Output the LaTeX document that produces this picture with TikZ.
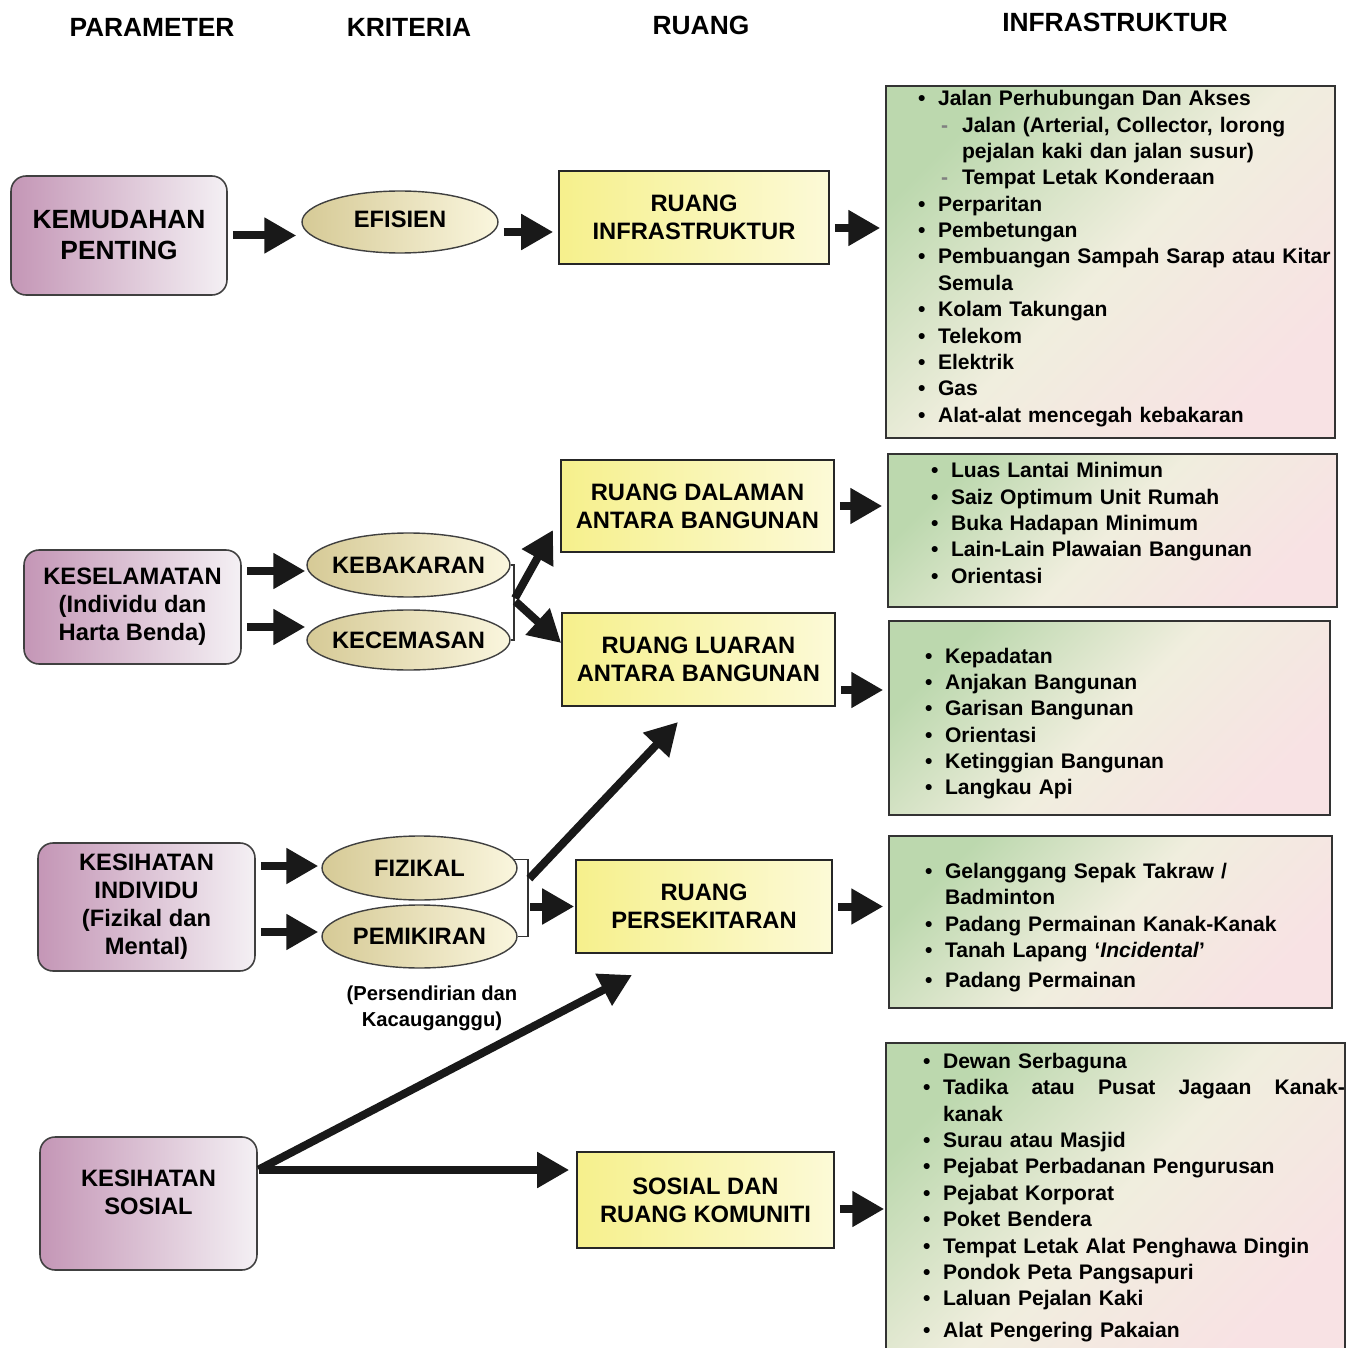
\documentclass[tikz,border=0pt]{standalone}
\usepackage{fontspec}
\setmainfont{Liberation Sans}
\usepackage{enumitem}
\usetikzlibrary{shapes.geometric,arrows.meta,positioning,calc}

\definecolor{paramL}{RGB}{196,150,182}
\definecolor{paramR}{RGB}{244,240,244}
\definecolor{critL}{RGB}{214,202,150}
\definecolor{critR}{RGB}{250,246,222}
\definecolor{ruangL}{RGB}{246,240,140}
\definecolor{ruangR}{RGB}{252,250,215}
\definecolor{infraT}{RGB}{188,216,174}
\definecolor{infraM}{RGB}{240,238,222}
\definecolor{infraB}{RGB}{248,226,228}

\setlist[itemize]{label=\textbullet,labelsep=0.25cm,itemsep=0pt,topsep=0pt,parsep=0pt,partopsep=0pt,leftmargin=1.04cm}
\setlist[itemize,2]{label={\textcolor{black!50}{-}},labelsep=0.28cm,leftmargin=0.48cm}

\begin{document}
\begin{tikzpicture}[x=0.02cm, y=-0.02cm,
    head/.style={font=\fontsize{15}{18}\selectfont\bfseries},
    param/.style={draw=black!75, line width=0.9pt, rounded corners=0.3cm, left color=paramL, right color=paramR, align=center, inner sep=0pt, font=\fontsize{13.5}{16}\selectfont\bfseries},
    crit/.style={ellipse, draw=black!75, line width=0.8pt, left color=critL, right color=critR, inner xsep=-0.1cm, inner ysep=0pt, font=\fontsize{13.5}{16}\selectfont\bfseries},
    ruang/.style={draw=black!85, line width=0.9pt, left color=ruangL, right color=ruangR, align=center, inner sep=0pt, font=\fontsize{13.5}{16}\selectfont\bfseries},
    infra/.style={draw=black!80, line width=0.9pt, top color=infraT, bottom color=infraB, middle color=infraM, shading angle=45, align=left, inner sep=0pt, font=\fontsize{12}{15}\selectfont\bfseries},
    note/.style={align=center, font=\fontsize{11.5}{14.7}\selectfont\bfseries},
    arr/.style={line width=0.16cm, black!90, -{Triangle[length=0.64cm,width=0.68cm]}, shorten <=0.1cm, shorten >=0.1cm},
    brk/.style={line width=0.8pt, black!80}
]
\useasboundingbox (0,0) rectangle (1357,1348);

% Headings
\node[head] (hpar) at (152,27) {PARAMETER};
\node[head] (hkri) at (409,27) {KRITERIA};
\node[head] (hrua) at (701,25) {RUANG};
\node[head] (hinf) at (1115,22) {INFRASTRUKTUR};

% Parameter
\node[param, minimum width=4.32cm, minimum height=2.38cm, font=\fontsize{15}{17.6}\selectfont\bfseries] (p1) at (119,235.5) {KEMUDAHAN\\PENTING};
\node[param, minimum width=4.34cm, minimum height=2.28cm] (p2) at (132.5,607) {KESELAMATAN\\(Individu dan\\Harta Benda)};
\node[param, minimum width=4.34cm, minimum height=2.56cm] (p3) at (146.5,907) {KESIHATAN\\INDIVIDU\\(Fizikal dan\\Mental)};
\node[param, minimum width=4.34cm, minimum height=2.66cm] (p4) at (148.5,1203.5) {KESIHATAN\\SOSIAL\\[-0.12cm]};

% Kriteria
\node[crit, minimum width=3.92cm, minimum height=1.24cm] (efi) at (400,222) {\raisebox{0.12cm}{EFISIEN}};
\node[crit, minimum width=4.06cm, minimum height=1.28cm] (keb) at (408.5,565) {KEBAKARAN};
\node[crit, minimum width=4.06cm, minimum height=1.2cm] (kec) at (408.5,640) {KECEMASAN};
\node[crit, minimum width=3.9cm, minimum height=1.28cm] (fiz) at (419.5,868) {FIZIKAL};
\node[crit, minimum width=3.9cm, minimum height=1.26cm] (pem) at (419.5,936.5) {PEMIKIRAN};
\node[note] (pnote) at (432,1008) {(Persendirian dan\\Kacauganggu)};

% Ruang
\node[ruang, minimum width=5.4cm, minimum height=1.86cm] (r1) at (694,217.5) {RUANG\\INFRASTRUKTUR};
\node[ruang, minimum width=5.46cm, minimum height=1.84cm] (r2) at (697.5,506) {RUANG DALAMAN\\ANTARA BANGUNAN};
\node[ruang, minimum width=5.46cm, minimum height=1.86cm] (r3) at (698.5,659.5) {RUANG LUARAN\\ANTARA BANGUNAN};
\node[ruang, minimum width=5.12cm, minimum height=1.86cm] (r4) at (704,906.5) {RUANG\\PERSEKITARAN};
\node[ruang, minimum width=5.14cm, minimum height=1.92cm] (r5) at (705.5,1200) {SOSIAL DAN\\RUANG KOMUNITI};

% Infrastruktur
\node[infra, text width=8.98cm, minimum height=7.04cm] (i1) at (1110.5,262) {\vspace*{-0.36cm}%
\begin{itemize}
\item Jalan Perhubungan Dan Akses
  \begin{itemize}
  \item Jalan (Arterial, Collector, lorong\newline pejalan kaki dan jalan susur)
  \item Tempat Letak Konderaan
  \end{itemize}
\item Perparitan
\item Pembetungan
\item Pembuangan Sampah Sarap atau Kitar\newline Semula
\item Kolam Takungan
\item Telekom
\item Elektrik
\item Gas
\item Alat-alat mencegah kebakaran
\end{itemize}};
\node[infra, text width=8.98cm, minimum height=3.06cm] (i2) at (1112.5,530.5) {\vspace*{-0.52cm}%
\begin{itemize}[leftmargin=1.26cm]
\item Luas Lantai Minimun
\item Saiz Optimum Unit Rumah
\item Buka Hadapan Minimum
\item Lain-Lain Plawaian Bangunan
\item Orientasi
\end{itemize}};
\node[infra, text width=8.82cm, minimum height=3.88cm] (i3) at (1109.5,718) {%
\begin{itemize}[leftmargin=1.12cm]
\item Kepadatan
\item Anjakan Bangunan
\item Garisan Bangunan
\item Orientasi
\item Ketinggian Bangunan
\item Langkau Api
\end{itemize}};
\node[infra, text width=8.86cm, minimum height=3.44cm] (i4) at (1110.5,922) {%
\begin{itemize}[leftmargin=1.12cm]
\item Gelanggang Sepak Takraw /\newline Badminton
\item Padang Permainan Kanak-Kanak
\item Tanah Lapang ‘\textit{Incidental}’
\item[\textbullet] \vspace{2pt}Padang Permainan
\end{itemize}};
\node[infra, text width=9.18cm, minimum height=6.2cm] (i5) at (1115.5,1198) {\vspace*{-0.24cm}%
\begin{itemize}[leftmargin=1.14cm]
\item Dewan Serbaguna
\item Tadika\hfill atau\hfill Pusat\hfill Jagaan\hfill Kanak-\newline kanak
\item Surau atau Masjid
\item Pejabat Perbadanan Pengurusan
\item Pejabat Korporat
\item Poket Bendera
\item Tempat Letak Alat Penghawa Dingin
\item Pondok Peta Pangsapuri
\item Laluan Pejalan Kaki
\item[\textbullet] \vspace{3pt}Alat Pengering Pakaian
\end{itemize}};

% Brackets and free ends
\coordinate (bk1) at (514,600);
\coordinate (bk2) at (528,880);
\coordinate (t1) at (553,530);
\coordinate (t2) at (678,722);
\coordinate (t3) at (632,975);
\draw[brk] (keb.east) -- (keb.east -| bk1) -- (kec.east -| bk1) -- (kec.east);
\draw[brk] (fiz.5) -- (fiz.5 -| bk2) -- (pem.east -| bk2) -- (pem.east);

% Arrows
\draw[arr] (p1.east) -- (p1.east -| efi.west);
\draw[arr] ([yshift=-0.2cm]efi.east) -- ([yshift=-0.2cm]efi.east -| r1.west);
\draw[arr] ([yshift=-0.21cm]r1.east) -- ([yshift=-0.21cm]r1.east -| i1.west);
\draw[arr, shorten >=0.02cm] ([yshift=0.72cm]p2.east) -- ([yshift=0.72cm]p2.east -| keb.west);
\draw[arr, shorten >=0.02cm] ([yshift=-0.4cm]p2.east) -- ([yshift=-0.4cm]p2.east -| kec.west);
\draw[arr, shorten <=0.04cm, shorten >=0cm] (bk1) -- (t1);
\draw[arr, shorten <=0.04cm, shorten >=0cm] (bk1) -- ([yshift=0.33cm]r3.west);
\draw[arr] (r2.east) -- (r2.east -| i2.west);
\draw[arr] ([yshift=-0.61cm]r3.east) -- ([yshift=-0.61cm]r3.east -| i3.west);
\draw[arr, shorten >=0.06cm] ([yshift=0.82cm]p3.east) -- ([yshift=0.82cm]p3.east -| fiz.west);
\draw[arr, shorten >=0.06cm] ([yshift=-0.5cm]p3.east) -- ([yshift=-0.5cm]p3.east -| pem.west);
\draw[arr, shorten <=0.04cm, shorten >=0cm] (bk2) -- (t2);
\draw[arr, shorten <=0.04cm, shorten >=0.02cm] (r4.west -| bk2) -- (r4.west);
\draw[arr] (r4.east) -- (r4.east -| i4.west);
\draw[arr, shorten <=0.02cm, shorten >=0cm] ([yshift=0.67cm]p4.east) -- (t3);
\draw[arr, shorten <=0.02cm, shorten >=0.14cm] ([yshift=0.67cm]p4.east) -- ([yshift=0.67cm]p4.east -| r5.west);
\draw[arr, shorten >=0.02cm] ([yshift=-0.18cm]r5.east) -- ([yshift=-0.18cm]r5.east -| i5.west);
\end{tikzpicture}
\end{document}
